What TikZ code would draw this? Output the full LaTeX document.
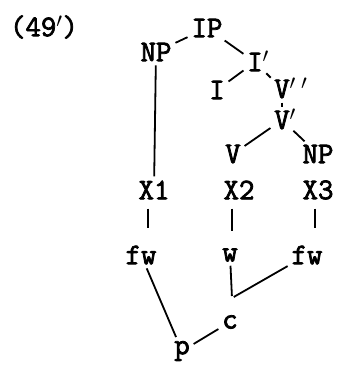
\documentclass[tikz,border=0pt]{standalone}
\usepackage{fontspec}
\setmonofont[FakeBold=2.5]{Latin Modern Mono}
\usetikzlibrary{positioning}

\newcommand{\barmark}[1]{\rlap{\smash{$^{#1}$}}}

\begin{document}
\begin{tikzpicture}[x=1pt, y=-1pt,
                    every node/.style={font=\ttfamily\fontsize{30}{30}\selectfont, inner sep=2pt},
                    every edge/.style={draw, line width=1.8pt, shorten <=2pt, shorten >=2pt},
                    stub/.style={shorten <=7pt, shorten >=15pt}]
\useasboundingbox (0,0) rectangle (343,365);

\node (num) at (44,27) {(49$'$)};
\node (ip) at (207,28) {IP};
\node (np1) at (156,52) {NP};
\node (ibar) at (255,62) {I\barmark{\prime}};
\node (i) at (217,90) {I};
\node (vbb) at (282,89) {V\barmark{\prime\;\prime}};
\node (vb) at (282,120) {V\barmark{\prime}};
\node (v) at (233,154) {V};
\node (np2) at (318,154) {NP};
\node (x1) at (154,190) {X1};
\node (x2) at (239,190) {X2};
\node (x3) at (318,190) {X3};
\node (fw1) at (141,255) {fw};
\node (w) at (230,255) {w};
\node (fw3) at (307,255) {fw};
\node (c) at (230,322) {c};
\node (p) at (182,351) {p};
\coordinate (cj) at (232,298);

\path
(ip) edge (np1)
(ip) edge (ibar)
(ibar) edge (i)
(ibar) edge (vbb)
(vbb) edge (vb)
(vb) edge (v)
(vb) edge (np2)
(np1) edge (x1);

\path
([xshift=-6pt]x1.south) edge [stub] ([xshift=-6pt]x1.south |- fw1.north)
([xshift=-7pt]x2.south) edge [stub] ([xshift=-7pt]x2.south |- w.north)
([xshift=-3pt]x3.south) edge [stub] ([xshift=-3pt]x3.south |- fw3.north);

\path
(w) edge (cj)
(fw3) edge (cj)
(fw1) edge (p)
(p) edge (c);
\end{tikzpicture}
\end{document}
